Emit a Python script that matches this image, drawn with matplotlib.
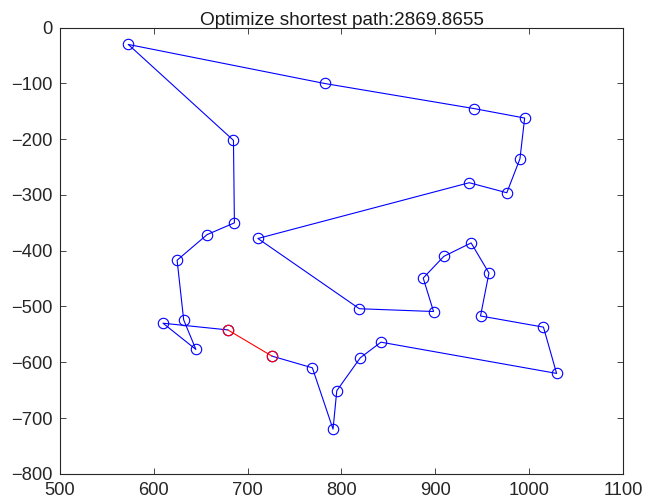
import matplotlib
matplotlib.use("Agg")
import matplotlib.pyplot as plt

# tour order (closed: last city links back to the first in red)
xs = [726, 769, 791, 795, 820, 842, 1029, 1015, 948, 957, 938, 909, 887, 898,
      819, 711, 936, 976, 990, 995, 941, 782, 573, 685, 686, 657, 625, 632,
      645, 610, 679]
ys = [-589, -610, -720, -651, -592, -564, -620, -537, -517, -440, -386, -410,
      -449, -509, -504, -378, -278, -296, -235, -162, -145, -100, -30, -202,
      -350, -371, -417, -524, -577, -530, -542]
best_len = 2869.8655

plt.rcParams['font.family'] = ['Liberation Sans', 'DejaVu Sans']

fig = plt.figure(figsize=(6.53, 5.04), dpi=100)
ax = fig.add_axes([0.0914, 0.060, 0.8631, 0.885])

ax.plot(xs, ys, '-o', color='b', lw=0.8, ms=7.5, mfc='none', mew=0.8)
ax.plot([xs[-1], xs[0]], [ys[-1], ys[0]], '-o', color='r', lw=0.8, ms=7.5,
        mfc='none', mew=0.8)

ax.set_xlim(500, 1100)
ax.set_ylim(-800, 0)
ax.set_xticks(range(500, 1101, 100))
ax.set_yticks(range(-800, 1, 100))
ax.set_title("Optimize shortest path:" + str(best_len), fontsize=13.7,
             color='#1a1a1a', pad=2)

gray = '#262626'
for s in ax.spines.values():
    s.set_color(gray)
    s.set_linewidth(0.8)
ax.tick_params(direction='in', top=True, right=True, length=4, width=0.6,
               colors=gray, labelsize=13.2, labelcolor=gray)
ax.tick_params(axis='x', pad=6)
ax.tick_params(axis='y', pad=5)

fig.savefig("out.png", dpi=100)
